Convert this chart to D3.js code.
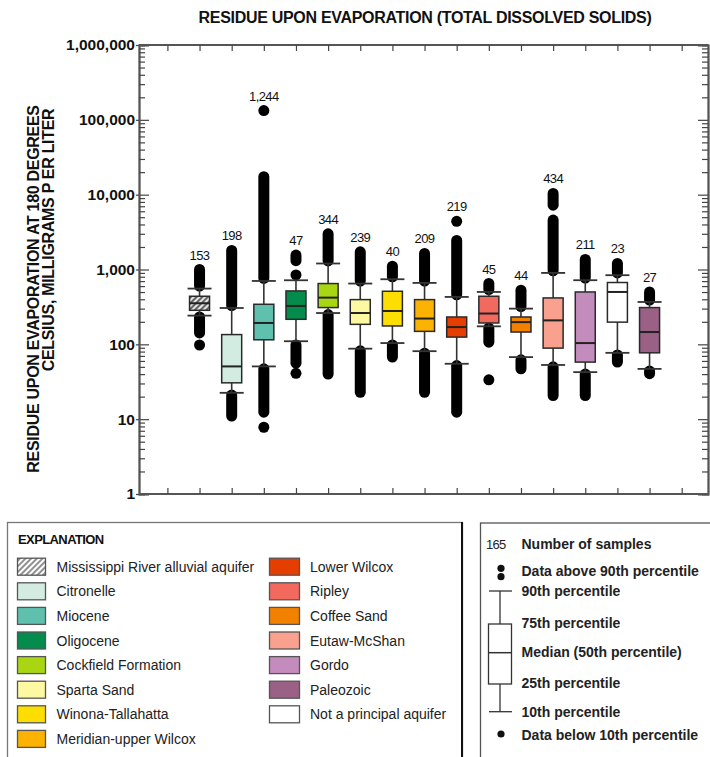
<!DOCTYPE html>
<html><head><meta charset="utf-8">
<script src="https://cdn.jsdelivr.net/npm/d3@7"></script>
<style>body{margin:0;background:#fff} text{font-family:"Liberation Sans",Arial,sans-serif}</style>
</head><body><svg id="c" width="710" height="757"></svg>
<script>
// ---------- DATA ----------
const categories = ["Mississippi River alluvial aquifer","Citronelle","Miocene","Oligocene","Cockfield Formation","Sparta Sand","Winona-Tallahatta","Meridian-upper Wilcox","Lower Wilcox","Ripley","Coffee Sand","Eutaw-McShan","Gordo","Not a principal aquifer","Paleozoic"];
const sampleCounts = [153,198,1244,47,344,239,40,209,219,45,44,434,211,23,27];
const p10 = [242,22.5,50.7,110,262,87.5,104,81,55,174,67.5,53,42.5,77,47];
const p25 = [285,30.6,115,216,310,185,176,149,125,193,146,89,57.9,198,77];
const p50 = [354,50.7,193,326,421,262,279,221,170,258,198,209,104,501,146];
const p75 = [439,135,343,517,649,396,512,396,232,439,232,417,501,670,310];
const p90 = [556,306,703,718,1203,649,741,662,430,501,300,900,719,839,368];
// clusters of individual samples outside the 10th-90th range: [low, high] (low==high: single sample)
const aboveRuns = [
  [[600,1000]],
  [[330,1800]],
  [[760,17400],[133000,133000]],
  [[845,845],[1310,1560]],
  [[1300,3000]],
  [[700,1720]],
  [[800,1107]],
  [[700,1640]],
  [[460,2450],[4400,4400]],
  [[540,650]],
  [[320,528]],
  [[960,4575],[7230,10400]],
  [[770,1361]],
  [[900,1203]],
  [[390,501]]
];
const belowRuns = [
  [[142,232],[98,98]],
  [[11,21]],
  [[12.4,47],[7.8,7.8]],
  [[56,98],[41,41]],
  [[40,250]],
  [[22.9,82]],
  [[67.5,98]],
  [[22.9,76]],
  [[12.4,52]],
  [[107,165],[33.6,33.6]],
  [[47,62]],
  [[20.7,50]],
  [[20.7,40]],
  [[58,72]],
  [[40.5,44]]
];
const fillColors = ["url(#hatch)","#d3ece1","#5fc0ae","#048c4c","#a8d612","#fdf9a2","#fedd00","#fbb200","#e63e00","#f2695e","#f28100","#f9a08e","#c38cbd","#ffffff","#9b6086"];
const legendLeft = ["Mississippi River alluvial aquifer","Citronelle","Miocene","Oligocene","Cockfield Formation","Sparta Sand","Winona-Tallahatta","Meridian-upper Wilcox"];
const legendRight = ["Lower Wilcox","Ripley","Coffee Sand","Eutaw-McShan","Gordo","Paleozoic","Not a principal aquifer"];
const yMajorTicks = [1,10,100,1000,10000,100000,1000000];
const titleText = "RESIDUE UPON EVAPORATION (TOTAL DISSOLVED SOLIDS)";
const yTitle = ["RESIDUE UPON EVAPORATION AT 180 DEGREES","CELSIUS, MILLIGRAMS P ER LITER"];
const keyLabels = ["Data above 90th percentile","90th percentile","75th percentile","Median (50th percentile)","25th percentile","10th percentile","Data below 10th percentile"];

// ---------- CHART ----------
const svg = d3.select("#c");
const defs = svg.append("defs");
const pat = defs.append("pattern").attr("id","hatch").attr("patternUnits","userSpaceOnUse")
  .attr("width",4).attr("height",4).attr("patternTransform","rotate(45)");
pat.append("rect").attr("width",4).attr("height",4).attr("fill","#e4e4e4");
pat.append("line").attr("x1",1).attr("y1",0).attr("x2",1).attr("y2",4).attr("stroke","#555").attr("stroke-width",1.8);
const pat2 = defs.append("pattern").attr("id","hatchL").attr("patternUnits","userSpaceOnUse")
  .attr("width",4).attr("height",4).attr("patternTransform","rotate(45)");
pat2.append("rect").attr("width",4).attr("height",4).attr("fill","#fff");
pat2.append("line").attr("x1",1).attr("y1",0).attr("x2",1).attr("y2",4).attr("stroke","#555").attr("stroke-width",1.3);

const L = 139, R = 708, T = 45, B = 494;
const y = d3.scaleLog().domain([1,1e6]).range([B,T]);
const slot = d3.scaleLinear().domain([-1,15]).range([167.4,681.7]);
const x = i => slot(i);
const allTicks = y.ticks();
const minorTicks = allTicks.filter(v => !yMajorTicks.includes(v));
const slotTicks = d3.range(-1,16);

const axCol = "#555";
function styleAxis(g){ g.select(".domain").attr("stroke",axCol).attr("stroke-width",1.8); g.selectAll(".tick line").attr("stroke","#444").attr("stroke-width",1.2); }

// left axis
svg.append("g").attr("transform",`translate(${L},0)`).call(d3.axisRight(y).tickValues(yMajorTicks).tickSize(10).tickFormat("")).call(styleAxis);
svg.append("g").attr("transform",`translate(${L},0)`).call(d3.axisRight(y).tickValues(minorTicks).tickSize(6).tickFormat("")).call(styleAxis);
const lab = svg.append("g").attr("transform",`translate(${L},0)`).call(d3.axisLeft(y).tickValues(yMajorTicks).tickSize(3).tickPadding(1).tickFormat(d3.format(",")));
styleAxis(lab); lab.select(".domain").remove();
lab.selectAll("text").attr("font-size",15.5).attr("font-weight","bold").attr("fill","#111").attr("font-family","Liberation Sans, Arial, sans-serif");
// right axis
svg.append("g").attr("transform",`translate(${R},0)`).call(d3.axisLeft(y).tickValues(yMajorTicks).tickSize(10).tickFormat("")).call(styleAxis);
svg.append("g").attr("transform",`translate(${R},0)`).call(d3.axisLeft(y).tickValues(minorTicks).tickSize(6).tickFormat("")).call(styleAxis);
// top / bottom axes
const topAx = svg.append("g").attr("transform",`translate(0,${T})`).call(d3.axisBottom(slot).tickValues(slotTicks).tickSize(6).tickFormat("")).call(styleAxis);
topAx.select(".domain").attr("d",`M${L},0H${R}`);
const botAx = svg.append("g").attr("transform",`translate(0,${B})`).call(d3.axisTop(slot).tickValues(slotTicks).tickSize(6).tickFormat("")).call(styleAxis);
botAx.select(".domain").attr("d",`M${L},0H${R}`);

// boxes
const bw = 20, cw = 24, r = 5.5;
categories.forEach((c,i) => {
  const g = svg.append("g");
  const cx = x(i);
  [...aboveRuns[i], ...belowRuns[i]].forEach(([lo,hi]) => {
    g.append("line").attr("x1",cx).attr("x2",cx).attr("y1",y(lo)).attr("y2",y(hi))
      .attr("stroke","#000").attr("stroke-width",2*r).attr("stroke-linecap","round");
  });
  g.append("line").attr("x1",cx).attr("x2",cx).attr("y1",y(p90[i])).attr("y2",y(p10[i])).attr("stroke","#333").attr("stroke-width",1.6);
  [p90[i],p10[i]].forEach(v => g.append("line").attr("x1",cx-cw/2).attr("x2",cx+cw/2).attr("y1",y(v)).attr("y2",y(v)).attr("stroke","#333").attr("stroke-width",1.8));
  g.append("rect").attr("x",cx-bw/2).attr("width",bw).attr("y",y(p75[i])).attr("height",y(p25[i])-y(p75[i]))
    .attr("fill",fillColors[i]).attr("stroke","#2a2a2a").attr("stroke-width",1.5);
  g.append("line").attr("x1",cx-bw/2).attr("x2",cx+bw/2).attr("y1",y(p50[i])).attr("y2",y(p50[i])).attr("stroke","#222").attr("stroke-width",2);
  const topV = d3.max([p90[i], ...aboveRuns[i].map(d=>d[1])]);
  g.append("text").attr("x",cx).attr("y",y(topV)-10).attr("text-anchor","middle").attr("font-size",13)
    .attr("letter-spacing",-0.6).attr("fill","#111").text(d3.format(",")(sampleCounts[i]));
});

// title
svg.append("text").attr("x",425).attr("y",23).attr("text-anchor","middle").attr("font-size",16).attr("font-weight","bold")
  .attr("letter-spacing",-0.3).attr("fill","#111").text(titleText);
// y title
[[38.5,289],[53.5,240]].forEach(([tx,ty],k) => {
  svg.append("text").attr("transform",`translate(${tx},${ty}) rotate(-90)`).attr("text-anchor","middle")
    .attr("font-size",16).attr("font-weight","bold").attr("fill","#111").attr("letter-spacing",-0.3).text(yTitle[k]);
});

// ---------- LEGENDS ----------
svg.append("rect").attr("x",7.5).attr("y",522.5).attr("width",455).attr("height",260).attr("fill","none").attr("stroke","#777").attr("stroke-width",1.3);
svg.append("line").attr("x1",462).attr("x2",462).attr("y1",522).attr("y2",757).attr("stroke","#111").attr("stroke-width",2);
svg.append("text").attr("x",18).attr("y",544).attr("font-size",13).attr("font-weight","bold").attr("letter-spacing",-0.6).attr("fill","#111").text("EXPLANATION");
const rowY = k => 566.7 + k*24.6;
function legendItem(name,k,sx,sw,tx){
  const i = categories.indexOf(name);
  const fill = i===0 ? "url(#hatchL)" : fillColors[i];
  svg.append("rect").attr("x",sx).attr("y",rowY(k)-8.5).attr("width",sw).attr("height",17).attr("fill",fill).attr("stroke","#555").attr("stroke-width",1.3);
  svg.append("text").attr("x",tx).attr("y",rowY(k)+5).attr("font-size",14).attr("fill","#222").text(name);
}
legendLeft.forEach((n,k)=>legendItem(n,k,17.5,28,56.5));
legendRight.forEach((n,k)=>legendItem(n,k,269.5,30,310));

// key box
svg.append("rect").attr("x",480.5).attr("y",523).attr("width",240).attr("height",260).attr("fill","none").attr("stroke","#555").attr("stroke-width",1.3);
svg.append("text").attr("x",486).attr("y",548.5).attr("font-size",13).attr("letter-spacing",-0.7).attr("fill","#222").text("165");
svg.append("text").attr("x",521.5).attr("y",548.5).attr("font-size",14).attr("font-weight","bold").attr("fill","#222").text("Number of samples");
const kx = 500;
[568.3,576.7,734].forEach(cy => svg.append("circle").attr("cx",kx+1).attr("cy",cy).attr("r",3.6).attr("fill","#111"));
svg.append("line").attr("x1",kx).attr("x2",kx).attr("y1",591).attr("y2",711.7).attr("stroke","#333").attr("stroke-width",1.3);
[591,711.7].forEach(v=>svg.append("line").attr("x1",489).attr("x2",512).attr("y1",v).attr("y2",v).attr("stroke","#333").attr("stroke-width",1.3));
svg.append("rect").attr("x",488.5).attr("y",624).attr("width",23).attr("height",60).attr("fill","#fff").attr("stroke","#333").attr("stroke-width",1.3);
svg.append("line").attr("x1",488.5).attr("x2",511.5).attr("y1",652.7).attr("y2",652.7).attr("stroke","#333").attr("stroke-width",1.5);
[571,591,623,652,683,712,735].forEach((ty,k)=>{
  svg.append("text").attr("x",521.5).attr("y",ty+5).attr("font-size",14).attr("font-weight","bold").attr("fill","#222").text(keyLabels[k]);
});
</script></body></html>
